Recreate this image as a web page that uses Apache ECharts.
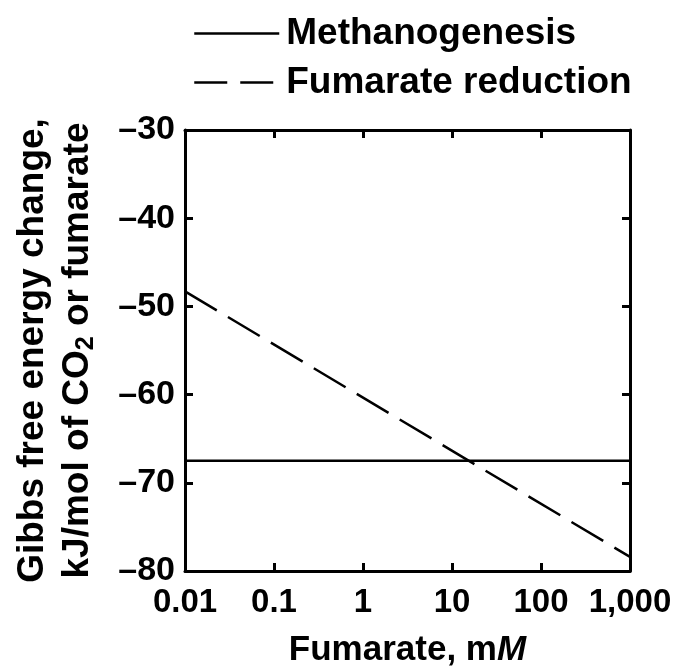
<!DOCTYPE html>
<html>
<head>
<meta charset="utf-8">
<script src="https://cdn.jsdelivr.net/npm/echarts@6/dist/echarts.min.js"></script>
<style>
  html, body { margin: 0; padding: 0; background: #fff; }
  #chart { width: 678px; height: 666px; }
</style>
</head>
<body>
<div id="chart"></div>
<script>
// values
const xTicks = [0.01, 0.1, 1, 10, 100, 1000]
const xTickLabels = ['0.01', '0.1', '1', '10', '100', '1,000']
const methanoX = [0.01, 1000]
const methanoY = [-67.5, -67.5]
const fumarateX = [0.01, 1000]
const fumarateY = [-48.3, -78.4]

const FONT = '"Liberation Sans", Arial, sans-serif'
const axisLine = { show: true, onZero: false, lineStyle: { color: '#000', width: 3 } }
const axisTick = { show: true, inside: true, length: 8, lineStyle: { color: '#000', width: 3 } }

const chart = echarts.init(document.getElementById('chart'), null, { renderer: 'canvas' })

const option = {
  animation: false,
  backgroundColor: '#fff',
  legend: {
    top: 10,
    left: 188,
    orient: 'vertical',
    itemWidth: 85,
    itemHeight: 36,
    itemGap: 12,
    itemStyle: { color: 'rgba(0,0,0,0)', borderColor: 'rgba(0,0,0,0)', borderWidth: 0 },
    textStyle: { fontFamily: FONT, fontWeight: 'bold', fontSize: 37, lineHeight: 36, color: '#000', padding: [0, 0, 0, 2] },
    data: [
      { name: 'Methanogenesis', lineStyle: { color: '#000', width: 2.5, type: 'solid' } },
      { name: 'Fumarate reduction', lineStyle: { color: '#000', width: 2.5, type: [33, 13] } }
    ]
  },
  grid: { left: 185, right: 48, top: 130, bottom: 95, outerBoundsMode: 'none' },
  xAxis: [
    {
      type: 'log',
      logBase: 10,
      min: 0.01,
      max: 1000,
      position: 'bottom',
      name: 'Fumarate, m{i|M}',
      nameLocation: 'middle',
      nameGap: 62,
      nameMoveOverlap: false,
      nameTextStyle: {
        fontFamily: FONT, fontWeight: 'bold', fontSize: 35, color: '#000', verticalAlign: 'top',
        rich: { i: { fontFamily: FONT, fontWeight: 'bold', fontStyle: 'italic', fontSize: 35, color: '#000' } }
      },
      axisLine: axisLine,
      axisTick: axisTick,
      minorTick: { show: false },
      splitLine: { show: false },
      axisLabel: {
        fontFamily: FONT, fontWeight: 'bold', fontSize: 33, color: '#000', margin: 15,
        showMinLabel: true, showMaxLabel: true,
        formatter: function (v) {
          const i = xTicks.findIndex(t => Math.abs(Math.log10(t) - Math.log10(v)) < 1e-6)
          return i >= 0 ? xTickLabels[i] : ''
        }
      }
    },
    {
      type: 'log',
      logBase: 10,
      min: 0.01,
      max: 1000,
      position: 'top',
      axisLine: axisLine,
      axisTick: axisTick,
      splitLine: { show: false },
      axisLabel: { show: false }
    }
  ],
  yAxis: [
    {
      type: 'value',
      min: -80,
      max: -30,
      interval: 10,
      position: 'left',
      name: 'Gibbs free energy change,\nkJ/mol of CO{sub|2} or fumarate',
      nameLocation: 'middle',
      nameRotate: 90,
      nameGap: 130,
      nameMoveOverlap: false,
      nameTextStyle: {
        fontFamily: FONT, fontWeight: 'bold', fontSize: 37, color: '#000', lineHeight: 45, align: 'center', verticalAlign: 'middle',
        rich: { sub: { fontFamily: FONT, fontWeight: 'bold', fontSize: 25, color: '#000', lineHeight: 45, padding: [17, 0, 0, 0] } }
      },
      axisLine: axisLine,
      axisTick: axisTick,
      splitLine: { show: false },
      axisLabel: {
        fontFamily: FONT, fontWeight: 'bold', fontSize: 34, color: '#000', margin: 10,
        formatter: v => String(v).replace('-', '\u2013')
      }
    },
    {
      type: 'value',
      min: -80,
      max: -30,
      interval: 10,
      position: 'right',
      axisLine: axisLine,
      axisTick: axisTick,
      splitLine: { show: false },
      axisLabel: { show: false }
    }
  ],
  series: [
    {
      name: 'Methanogenesis',
      type: 'line',
      symbol: 'none',
      color: '#000',
      lineStyle: { color: '#000', width: 2.5 },
      data: methanoX.map((x, i) => [x, methanoY[i]])
    },
    {
      name: 'Fumarate reduction',
      type: 'line',
      symbol: 'none',
      color: '#000',
      lineStyle: { color: '#000', width: 2.5, type: [37, 13] },
      data: fumarateX.map((x, i) => [x, fumarateY[i]])
    }
  ]
}

chart.setOption(option)
</script>
</body>
</html>
